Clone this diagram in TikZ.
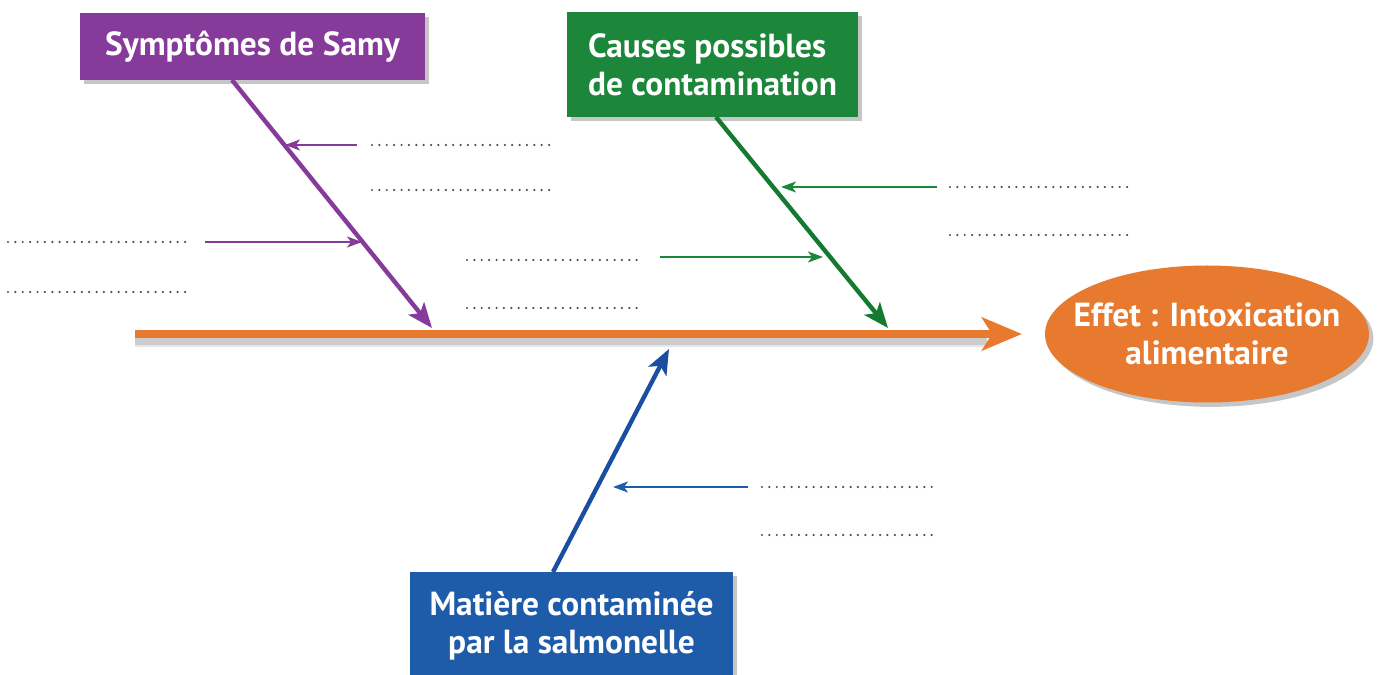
\documentclass[tikz,border=0pt]{standalone}
\usepackage{fontspec}
\setmainfont{PT Sans}
\usetikzlibrary{arrows.meta,shapes.geometric,shadows}
\definecolor{cpurple}{RGB}{134,58,154}
\definecolor{cgreen}{RGB}{28,134,58}
\definecolor{cgreenl}{RGB}{20,122,48}
\definecolor{cblue}{RGB}{30,92,170}
\definecolor{cbluel}{RGB}{26,78,160}
\definecolor{corange}{RGB}{232,122,48}
\definecolor{cdots}{RGB}{80,80,80}
\begin{document}
\begin{tikzpicture}[x=0.02cm,y=-0.02cm,
  boxlabel/.style={draw=none,text=white,inner sep=0pt,
    font=\fontsize{19}{21.5}\selectfont\bfseries,
    drop shadow={shadow xshift=2.5pt,shadow yshift=-2.5pt,opacity=0.45,fill=gray}},
  plaintext/.style={text=white,inner sep=0pt,font=\fontsize{19}{21.5}\selectfont\bfseries},
  bone/.style={line width=2.5pt},
  rib/.style={line width=1.2pt},
  bigtip/.style={-{Stealth[length=0.5cm,width=0.4cm,inset=0.12cm]}},
  smalltip/.style={-{Stealth[length=0.3cm,width=0.22cm,inset=0.08cm]}},
  dotline/.style={cdots,line width=1.4pt,line cap=round,dash pattern=on 0pt off 4.2pt}]
\useasboundingbox (0,0) rectangle (1377,675);

% boxes
\node[boxlabel,fill=cpurple,minimum width={345*0.02cm},minimum height={67*0.02cm}] (sym) at (252.5,46.5) {Symptômes de Samy};
\node[boxlabel,fill=cgreen,minimum width={291*0.02cm},minimum height={105*0.02cm},align=left] (cause) at (712.5,64.5) {Causes possibles\\de contamination};
\node[boxlabel,fill=cblue,minimum width={323*0.02cm},minimum height={108*0.02cm},align=center] (mat) at (571.5,626) {Matière contaminée\\par la salmonelle};
\node[boxlabel,ellipse,fill=corange,minimum width={324*0.02cm},minimum height={137*0.02cm}] (eff) at (1207,334) {};
\node[plaintext,align=center] (efftext) at (eff.center) {Effet : Intoxication\\alimentaire};

% spine
\coordinate (s0) at (135,334);
\coordinate (s1) at (1022,334);
\draw[gray,opacity=0.25,line width=6pt] ([yshift=-3pt]s0) -- ([yshift=-3pt,xshift=-0.7cm]s1);
\draw[gray,opacity=0.2,line width=9pt] ([yshift=-3pt]s0) -- ([yshift=-3pt,xshift=-0.7cm]s1);
\draw[corange,line width=4.5pt,-{Stealth[length=0.8cm,width=0.66cm,inset=0.2cm]}] (s0) -- (s1);

% purple branch
\coordinate (p0) at (232,80);
\coordinate (p1) at (432,328);
\draw[cpurple,bone,bigtip] (p0) -- (p1);
\coordinate (pa1s) at (357,145); \coordinate (pa1e) at (285,145);
\coordinate (pa2s) at (205,242); \coordinate (pa2e) at (362,242);
\draw[cpurple,rib,smalltip] (pa1s) -- (pa1e);
\draw[cpurple,rib,smalltip] (pa2s) -- (pa2e);

% green branch
\coordinate (g0) at (716,117);
\coordinate (g1) at (888,328);
\draw[cgreenl,bone,bigtip] (g0) -- (g1);
\coordinate (ga1s) at (937,187); \coordinate (ga1e) at (781,187);
\coordinate (ga2s) at (660,257); \coordinate (ga2e) at (823,257);
\draw[cgreen,rib,smalltip] (ga1s) -- (ga1e);
\draw[cgreen,rib,smalltip] (ga2s) -- (ga2e);

% blue branch
\coordinate (b0) at (553,572);
\coordinate (b1) at (669,349);
\draw[cbluel,bone,bigtip] (b0) -- (b1);
\coordinate (ba1s) at (748,487); \coordinate (ba1e) at (613,487);
\draw[cblue,rib,smalltip] (ba1s) -- (ba1e);

% dotted answer lines
\draw[dotline] (372,145) -- (552,145);
\draw[dotline] (372,190) -- (552,190);
\draw[dotline] (8,242) -- (188,242);
\draw[dotline] (8,292) -- (188,292);
\draw[dotline] (467,260) -- (643,260);
\draw[dotline] (467,308) -- (643,308);
\draw[dotline] (950,187) -- (1128,187);
\draw[dotline] (950,235) -- (1128,235);
\draw[dotline] (762,487) -- (938,487);
\draw[dotline] (762,535) -- (938,535);
\end{tikzpicture}
\end{document}
